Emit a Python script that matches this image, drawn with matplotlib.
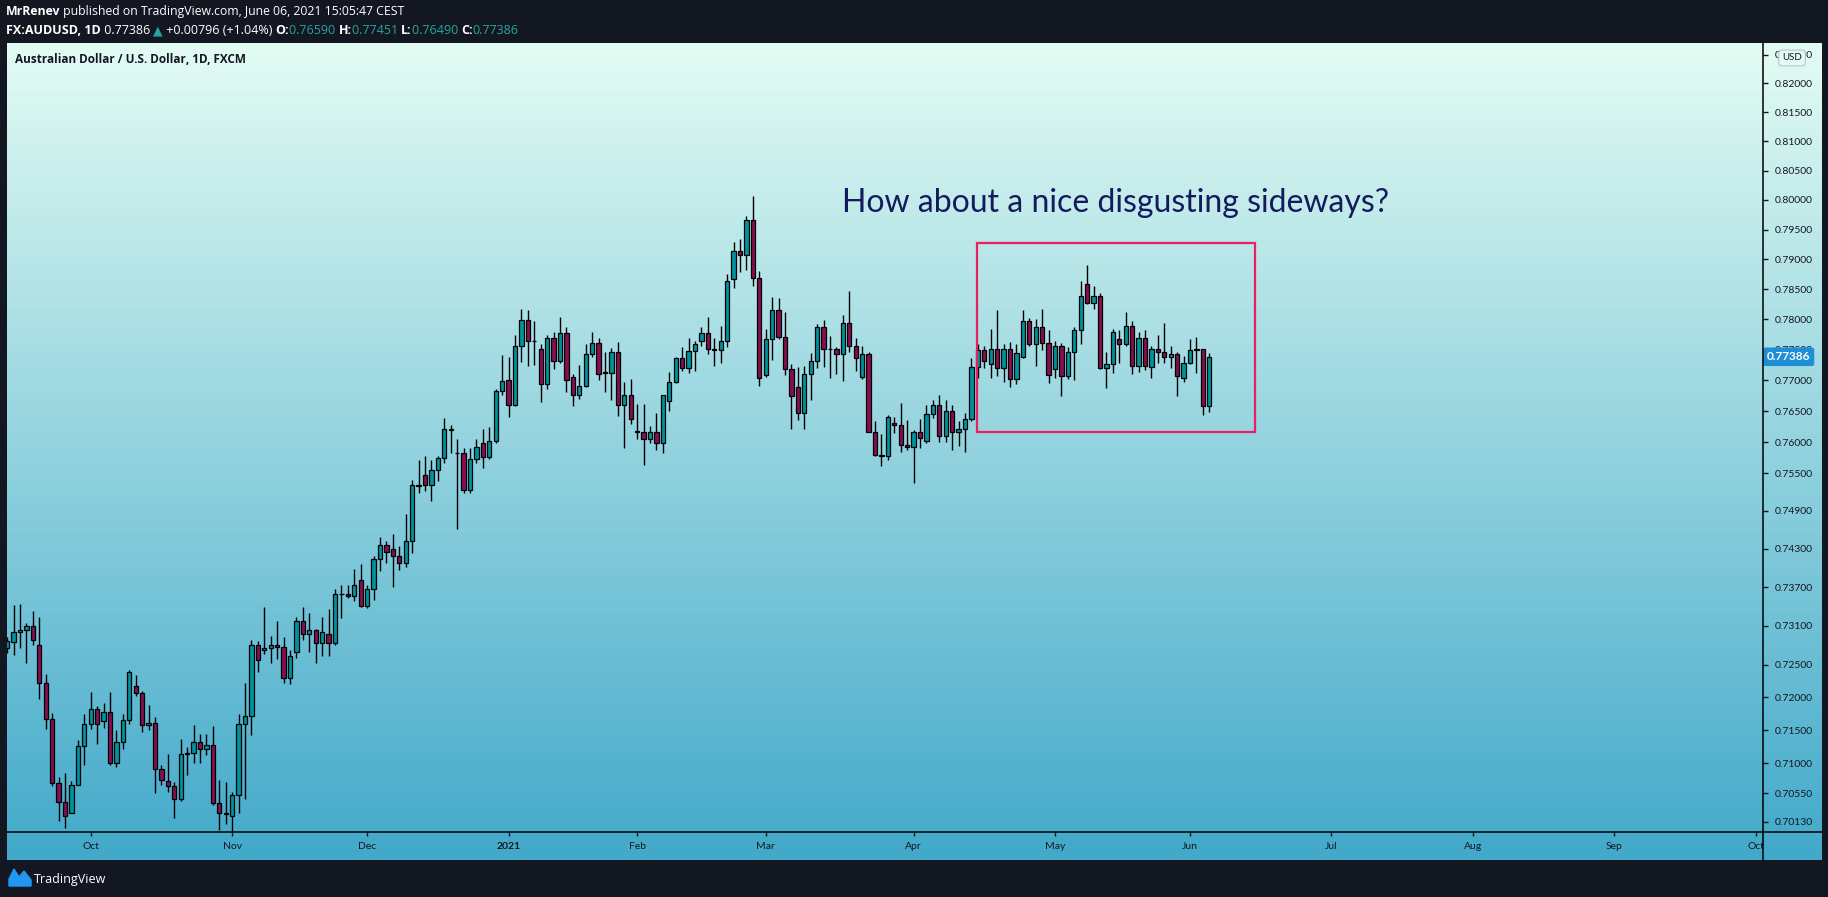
"""
AUD/USD daily candles, TradingView style snapshot
"""
import numpy as np
import pandas as pd
import matplotlib
matplotlib.use('Agg')
import matplotlib.pyplot as plt
from matplotlib.patches import Rectangle, Polygon
from matplotlib.lines import Line2D
from matplotlib.ticker import NullLocator

# daily bars from 2020-09-14 (FXCM, no bars on Dec 25 / Jan 1)
open_ = [0.7275, 0.7285, 0.7300, 0.7303, 0.7309, 0.7281, 0.7222, 0.7167, 0.7070, 0.7042,
         0.7026, 0.7067, 0.7126, 0.7159, 0.7182, 0.7164, 0.7177, 0.7100, 0.7133, 0.7165,
         0.7217, 0.7206, 0.7158, 0.7161, 0.7091, 0.7073, 0.7066, 0.7046, 0.7114, 0.7115,
         0.7132, 0.7122, 0.7128, 0.7040, 0.7026, 0.7021, 0.7052, 0.7160, 0.7172, 0.7280,
         0.7272, 0.7276, 0.7280, 0.7278, 0.7229, 0.7269, 0.7318, 0.7297, 0.7303, 0.7283,
         0.7298, 0.7284, 0.7359, 0.7359, 0.7356, 0.7382, 0.7340, 0.7367, 0.7414, 0.7436,
         0.7430, 0.7419, 0.7408, 0.7442, 0.7531, 0.7547, 0.7531, 0.7555, 0.7574, 0.7621,
         0.7583, 0.7583, 0.7524, 0.7573, 0.7598, 0.7576, 0.7601, 0.7683, 0.7700, 0.7660,
         0.7757, 0.7799, 0.7765, 0.7751, 0.7694, 0.7770, 0.7731, 0.7777, 0.7705, 0.7676,
         0.7691, 0.7743, 0.7761, 0.7713, 0.7712, 0.7747, 0.7660, 0.7676, 0.7618, 0.7617,
         0.7605, 0.7616, 0.7598, 0.7666, 0.7697, 0.7736, 0.7720, 0.7748, 0.7764, 0.7777,
         0.7752, 0.7749, 0.7765, 0.7867, 0.7914, 0.7908, 0.7966, 0.7869, 0.7709, 0.7768,
         0.7816, 0.7771, 0.7719, 0.7689, 0.7647, 0.7711, 0.7732, 0.7787, 0.7752, 0.7752,
         0.7743, 0.7794, 0.7756, 0.7705, 0.7743, 0.7616, 0.7580, 0.7578, 0.7631, 0.7628,
         0.7595, 0.7592, 0.7616, 0.7601, 0.7645, 0.7660, 0.7610, 0.7650, 0.7616, 0.7621,
         0.7637, 0.7722, 0.7749, 0.7726, 0.7752, 0.7721, 0.7751, 0.7702, 0.7738, 0.7797,
         0.7760, 0.7787, 0.7762, 0.7719, 0.7757, 0.7707, 0.7746, 0.7782, 0.7858, 0.7827,
         0.7839, 0.7721, 0.7726, 0.7767, 0.7759, 0.7789, 0.7724, 0.7770, 0.7722, 0.7751,
         0.7747, 0.7739, 0.7743, 0.7704, 0.7728, 0.7749, 0.7751, 0.76590]
high_ = [0.7292, 0.7342, 0.7344, 0.7314, 0.7333, 0.7323, 0.7235, 0.7176, 0.7080, 0.7085,
         0.7073, 0.7136, 0.7174, 0.7208, 0.7187, 0.7192, 0.7208, 0.7150, 0.7174, 0.7242,
         0.7234, 0.7209, 0.7189, 0.7170, 0.7097, 0.7114, 0.7072, 0.7137, 0.7124, 0.7158,
         0.7145, 0.7145, 0.7156, 0.7075, 0.7072, 0.7057, 0.7174, 0.7222, 0.7288, 0.7286,
         0.7339, 0.7294, 0.7317, 0.7292, 0.7272, 0.7324, 0.7339, 0.7330, 0.7305, 0.7323,
         0.7336, 0.7367, 0.7373, 0.7373, 0.7398, 0.7406, 0.7373, 0.7419, 0.7448, 0.7442,
         0.7453, 0.7434, 0.7485, 0.7539, 0.7571, 0.7577, 0.7571, 0.7577, 0.7639, 0.7627,
         0.7605, 0.7590, 0.7590, 0.7605, 0.7621, 0.7625, 0.7686, 0.7741, 0.7739, 0.7775,
         0.7818, 0.7816, 0.7797, 0.7759, 0.7775, 0.7780, 0.7804, 0.7787, 0.7710, 0.7725,
         0.7759, 0.7780, 0.7769, 0.7746, 0.7753, 0.7763, 0.7697, 0.7702, 0.7661, 0.7661,
         0.7626, 0.7647, 0.7677, 0.7713, 0.7739, 0.7754, 0.7770, 0.7764, 0.7787, 0.7804,
         0.7770, 0.7790, 0.7875, 0.7929, 0.7934, 0.7972, 0.8006, 0.7880, 0.7785, 0.7838,
         0.7836, 0.7813, 0.7726, 0.7722, 0.7724, 0.7744, 0.7792, 0.7799, 0.7773, 0.7755,
         0.7808, 0.7847, 0.7770, 0.7756, 0.7747, 0.7634, 0.7613, 0.7644, 0.7640, 0.7663,
         0.7635, 0.7619, 0.7637, 0.7660, 0.7668, 0.7676, 0.7668, 0.7660, 0.7634, 0.7647,
         0.7736, 0.7759, 0.7757, 0.7784, 0.7816, 0.7760, 0.7763, 0.7759, 0.7815, 0.7803,
         0.7801, 0.7818, 0.7782, 0.7765, 0.7762, 0.7755, 0.7787, 0.7863, 0.7891, 0.7856,
         0.7844, 0.7747, 0.7785, 0.7782, 0.7812, 0.7797, 0.7780, 0.7782, 0.7756, 0.7775,
         0.7795, 0.7756, 0.7746, 0.7740, 0.7767, 0.7771, 0.7752, 0.77451]
low_ = [0.7268, 0.7265, 0.7276, 0.7252, 0.7280, 0.7198, 0.7152, 0.7066, 0.7014, 0.7004,
        0.7026, 0.7067, 0.7098, 0.7152, 0.7130, 0.7154, 0.7098, 0.7094, 0.7121, 0.7160,
        0.7202, 0.7148, 0.7151, 0.7055, 0.7068, 0.7057, 0.7019, 0.7043, 0.7083, 0.7100,
        0.7101, 0.7112, 0.7037, 0.7001, 0.7010, 0.6990, 0.7026, 0.7047, 0.7143, 0.7239,
        0.7266, 0.7252, 0.7259, 0.7222, 0.7220, 0.7261, 0.7288, 0.7270, 0.7253, 0.7264,
        0.7264, 0.7281, 0.7322, 0.7353, 0.7348, 0.7339, 0.7337, 0.7350, 0.7396, 0.7408,
        0.7370, 0.7397, 0.7402, 0.7424, 0.7519, 0.7522, 0.7505, 0.7537, 0.7566, 0.7582,
        0.7461, 0.7519, 0.7519, 0.7566, 0.7558, 0.7573, 0.7599, 0.7677, 0.7641, 0.7658,
        0.7730, 0.7724, 0.7725, 0.7665, 0.7686, 0.7719, 0.7728, 0.7681, 0.7658, 0.7670,
        0.7689, 0.7739, 0.7700, 0.7681, 0.7668, 0.7642, 0.7590, 0.7630, 0.7605, 0.7563,
        0.7599, 0.7587, 0.7583, 0.7650, 0.7695, 0.7716, 0.7712, 0.7716, 0.7757, 0.7743,
        0.7723, 0.7729, 0.7754, 0.7852, 0.7878, 0.7882, 0.7855, 0.7691, 0.7706, 0.7734,
        0.7768, 0.7708, 0.7621, 0.7636, 0.7621, 0.7668, 0.7721, 0.7722, 0.7704, 0.7710,
        0.7699, 0.7746, 0.7716, 0.7702, 0.7616, 0.7578, 0.7562, 0.7571, 0.7614, 0.7584,
        0.7587, 0.7535, 0.7590, 0.7598, 0.7639, 0.7600, 0.7600, 0.7587, 0.7593, 0.7584,
        0.7634, 0.7704, 0.7721, 0.7704, 0.7707, 0.7698, 0.7689, 0.7694, 0.7737, 0.7756,
        0.7724, 0.7749, 0.7695, 0.7704, 0.7674, 0.7703, 0.7700, 0.7759, 0.7825, 0.7818,
        0.7718, 0.7687, 0.7712, 0.7729, 0.7756, 0.7710, 0.7714, 0.7717, 0.7704, 0.7729,
        0.7729, 0.7720, 0.7675, 0.7698, 0.7727, 0.7712, 0.7644, 0.76490]
close_ = [0.7286, 0.7300, 0.7303, 0.7309, 0.7288, 0.7222, 0.7167, 0.7070, 0.7042, 0.7022,
          0.7067, 0.7126, 0.7159, 0.7182, 0.7159, 0.7177, 0.7100, 0.7133, 0.7165, 0.7239,
          0.7206, 0.7158, 0.7161, 0.7091, 0.7075, 0.7066, 0.7046, 0.7114, 0.7115, 0.7132,
          0.7122, 0.7128, 0.7040, 0.7026, 0.7025, 0.7052, 0.7160, 0.7172, 0.7280, 0.7257,
          0.7276, 0.7280, 0.7278, 0.7229, 0.7263, 0.7318, 0.7297, 0.7303, 0.7283, 0.7301,
          0.7284, 0.7359, 0.7360, 0.7356, 0.7374, 0.7340, 0.7367, 0.7414, 0.7436, 0.7425,
          0.7419, 0.7408, 0.7442, 0.7531, 0.7529, 0.7531, 0.7555, 0.7574, 0.7621, 0.7619,
          0.7582, 0.7524, 0.7573, 0.7592, 0.7576, 0.7601, 0.7683, 0.7699, 0.7660, 0.7757,
          0.7799, 0.7765, 0.7764, 0.7694, 0.7770, 0.7731, 0.7777, 0.7700, 0.7676, 0.7691,
          0.7743, 0.7761, 0.7710, 0.7712, 0.7747, 0.7660, 0.7676, 0.7637, 0.7617, 0.7605,
          0.7616, 0.7598, 0.7676, 0.7697, 0.7736, 0.7720, 0.7748, 0.7759, 0.7777, 0.7752,
          0.7749, 0.7765, 0.7864, 0.7914, 0.7908, 0.7966, 0.7869, 0.7704, 0.7768, 0.7816,
          0.7771, 0.7719, 0.7674, 0.7647, 0.7711, 0.7732, 0.7787, 0.7752, 0.7751, 0.7743,
          0.7794, 0.7756, 0.7736, 0.7743, 0.7616, 0.7580, 0.7578, 0.7640, 0.7628, 0.7595,
          0.7592, 0.7616, 0.7606, 0.7645, 0.7660, 0.7610, 0.7650, 0.7616, 0.7621, 0.7637,
          0.7722, 0.7749, 0.7731, 0.7752, 0.7721, 0.7751, 0.7702, 0.7744, 0.7797, 0.7760,
          0.7787, 0.7762, 0.7708, 0.7757, 0.7707, 0.7746, 0.7782, 0.7839, 0.7827, 0.7839,
          0.7721, 0.7726, 0.7779, 0.7759, 0.7789, 0.7724, 0.7770, 0.7724, 0.7751, 0.7746,
          0.7739, 0.7743, 0.7707, 0.7728, 0.7749, 0.7751, 0.7659, 0.77386]

price_ticks = [0.70130, 0.70550, 0.71000, 0.71500, 0.72000, 0.72500, 0.73100, 0.73700,
               0.74300, 0.74900, 0.75500, 0.76000, 0.76500, 0.77000, 0.77500, 0.78000,
               0.78500, 0.79000, 0.79500, 0.80000, 0.80500, 0.81000, 0.81500, 0.82000, 0.82500]

# the pink "sideways" box drawn by the author
box_x = [150.86, 194.06]
box_y = [0.76158, 0.79282]

# colours
bg_dark = '#131722'
grad_top = np.array([227, 252, 243]) / 255
grad_bot = np.array([66, 169, 202]) / 255
up_col = '#00939e'
down_col = '#880e4f'
teal_txt = '#26a69a'

W, H = 1828, 897
fig = plt.figure(figsize=(W / 100, H / 100), dpi=100)
fig.patch.set_facecolor(bg_dark)


def fx(px):
    return px / W


def fy(py):
    return 1 - py / H


# gradient panel behind chart + both scales
panel = fig.add_axes([fx(7), fy(860), fx(1822) - fx(7), fy(43) - fy(860)])
t = np.linspace(0, 1, 256)[:, None]
grad = grad_top * (1 - t) + grad_bot * t
panel.imshow(grad[:, None, :], aspect='auto', extent=[0, 1, 0, 1], origin='upper')
panel.axis('off')

ax = fig.add_axes([fx(7), fy(832), fx(1763) - fx(7), fy(43) - fy(832)])
ax.set_facecolor('none')
ax.set_yscale('log')

# trading-day axis
dates = pd.bdate_range('2020-09-14', '2021-10-01')
dates = dates.drop(pd.to_datetime(['2020-12-25', '2021-01-01']))
o = np.array(open_)
h = np.array(high_)
l = np.array(low_)
c = np.array(close_)
x = np.arange(len(c))
up = c >= o
cols = np.where(up, up_col, down_col)

ax.vlines(x, l, h, color='black', lw=1.0, zorder=2)
ax.bar(x, np.abs(c - o), bottom=np.minimum(o, c), width=0.66, color=cols,
       edgecolor='black', linewidth=0.9, zorder=3)

ax.set_xlim(-0.016, 273.14)
ax.set_ylim(0.69976, 0.82704)
for s in ax.spines.values():
    s.set_visible(False)

# price scale
ax.yaxis.tick_right()
ax.yaxis.set_minor_locator(NullLocator())
ax.set_yticks(price_ticks, ['%.5f' % v for v in price_ticks])
ax.tick_params(axis='y', direction='out', length=3.5, width=1, colors='#131722',
               labelsize=7.5, pad=5)
for lab in ax.get_yticklabels():
    lab.set_fontfamily('Lato')

# time scale
first_of_month = ~pd.Series(dates.to_period('M')).duplicated().values
tick_idx = np.flatnonzero(first_of_month)[1:]
tick_lab = ['2021' if d.month == 1 else d.strftime('%b') for d in dates[tick_idx]]
ax.set_xticks(tick_idx, tick_lab)
ax.tick_params(axis='x', direction='out', length=3, width=1, colors='#131722',
               labelsize=7.5, pad=4)
for lab in ax.get_xticklabels():
    lab.set_fontfamily('Lato')
    if lab.get_text() == '2021':
        lab.set_fontweight('bold')

# scale separators
fig.add_artist(Line2D([fx(7), fx(1822)], [fy(832), fy(832)], color='black', lw=1.1))
fig.add_artist(Line2D([fx(1763), fx(1763)], [fy(43), fy(860)], color='black', lw=1.1))

# sideways box and note
ax.add_patch(Rectangle((box_x[0], box_y[0]), box_x[1] - box_x[0], box_y[1] - box_y[0],
                       fill=False, edgecolor='#e91e63', lw=1.6, zorder=4))
ax.text(129.9, 0.7980, 'How about a nice disgusting sideways?', fontsize=23,
        family='Lato', color='#141a5e', ha='left', va='baseline', zorder=5)

# last price badge
ax.annotate('%.5f' % close_[-1], xy=(1, close_[-1]), xycoords=('axes fraction', 'data'),
            xytext=(4, 0), textcoords='offset pixels', ha='left', va='center',
            fontsize=8.5, fontweight='bold', color='white', family='Lato',
            annotation_clip=False, zorder=6,
            bbox=dict(boxstyle='round,pad=0.32,rounding_size=0.2', fc='#1e8fd6', ec='none'))

fig.text(fx(1792), fy(58), 'USD', ha='center', va='center', fontsize=7, color='#131722',
         family='Lato',
         bbox=dict(boxstyle='round,pad=0.35', fc='#e3fcf3', ec='#b8c4c8', lw=0.8))

# chart title inside panel
fig.text(fx(15), fy(66), 'Australian Dollar / U.S. Dollar, 1D, FXCM', fontsize=8.5,
         fontweight='bold', color='#131722', family='Open Sans', va='bottom')


def chain(pieces, x0, y0, size=9):
    last = None
    for s, color, weight in pieces:
        kw = dict(fontsize=size, color=color, fontweight=weight,
                  family=['Open Sans', 'DejaVu Sans'], va='bottom', ha='left')
        if last is None:
            last = fig.text(x0, y0, s, **kw)
        else:
            last = fig.add_artist(plt.Annotation(s, xy=(1, 0), xycoords=last, **kw))


# header lines
line1 = [('MrRenev', 'white', 'bold'),
         (' published on TradingView.com, June 06, 2021 15:05:47 CEST', 'white', 'normal')]
line2 = [('FX:AUDUSD, 1D', 'white', 'bold'), (' 0.77386 ', 'white', 'normal'),
         ('\u25b2', teal_txt, 'normal'), (' +0.00796 (+1.04%) ', 'white', 'normal'),
         ('O:', 'white', 'bold'), ('0.76590 ', teal_txt, 'normal'),
         ('H:', 'white', 'bold'), ('0.77451 ', teal_txt, 'normal'),
         ('L:', 'white', 'bold'), ('0.76490 ', teal_txt, 'normal'),
         ('C:', 'white', 'bold'), ('0.77386', teal_txt, 'normal')]
chain(line1, fx(6), fy(18), size=8.8)
chain(line2, fx(6), fy(37))

# TradingView logo
fig.add_artist(Polygon([(fx(9), fy(886)), (fx(9), fy(879)), (fx(14), fy(869)),
                        (fx(19), fy(877)), (fx(24), fy(871)), (fx(31), fy(880)),
                        (fx(31), fy(886))], closed=True, color='#2196f3'))
fig.text(fx(34), fy(883), 'TradingView', fontsize=9, color='white', family='Open Sans',
         va='baseline')

fig.savefig('out.png', dpi=100, facecolor=fig.get_facecolor())
